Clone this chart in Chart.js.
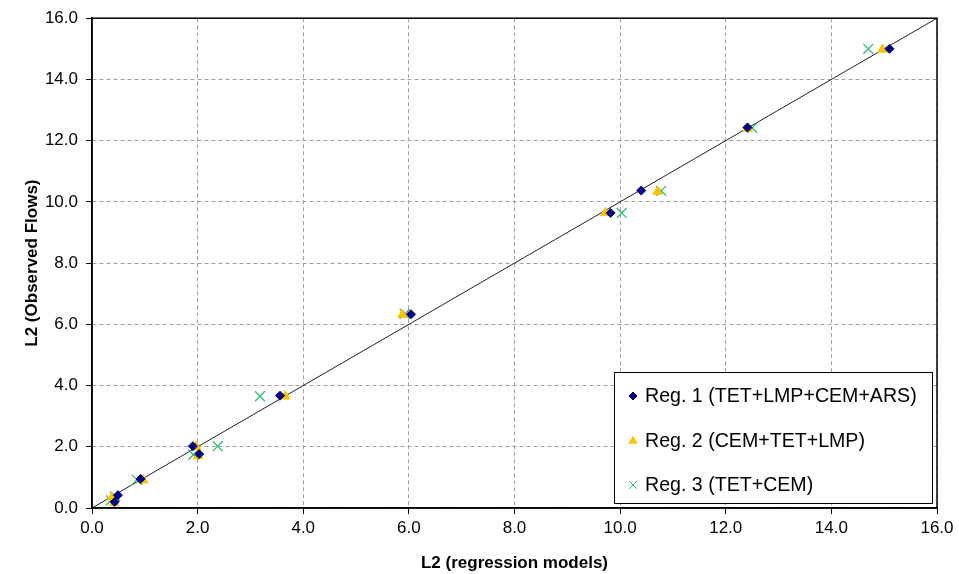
<!DOCTYPE html>
<html>
<head>
<meta charset="utf-8">
<script src="https://cdn.jsdelivr.net/npm/chart.js@4/dist/chart.umd.min.js"></script>
<style>
  html, body { margin: 0; padding: 0; background: #fff; }
  #wrap { width: 959px; height: 574px; position: relative; }
</style>
</head>
<body>
<div id="wrap"><canvas id="scatterChart"></canvas></div>
<script>
// data
const seriesLabels = ["Reg. 1 (TET+LMP+CEM+ARS)", "Reg. 2 (CEM+TET+LMP)", "Reg. 3 (TET+CEM)"];

const reg1X = [0.49, 0.43, 0.92, 1.91, 2.03, 3.56, 6.04, 9.82, 10.40, 12.41, 15.10];
const reg1Y = [0.42, 0.20, 0.95, 2.02, 1.76, 3.67, 6.33, 9.64, 10.37, 12.43, 15.00];

const reg2X = [0.38, 0.42, 0.97, 1.97, 2.01, 3.66, 5.88, 9.72, 10.71, 12.42, 14.97];
const reg2Y = [0.35, 0.17, 0.91, 2.00, 1.70, 3.65, 6.32, 9.64, 10.34, 12.40, 14.98];

const reg3X = [0.36, 0.44, 0.85, 1.92, 2.38, 3.18, 5.92, 10.03, 10.78, 12.50, 14.70];
const reg3Y = [0.25, 0.38, 0.92, 1.74, 2.02, 3.65, 6.34, 9.64, 10.36, 12.42, 15.00];

const lineX = [0, 16];
const lineY = [0, 16];

const axisMin = 0;
const axisMax = 16;
const axisStep = 2;

const xTitle = "L2 (regression models)";
const yTitle = "L2 (Observed Flows)";

function toPoints(xs, ys) {
    return xs.map((x, i) => ({ x: x, y: ys[i] }));
}

// bingkai area plot
const framePlugin = {
    id: "frame",
    afterDatasetsDraw(chart) {
        const a = chart.chartArea;
        const ctx = chart.ctx;
        ctx.save();
        ctx.strokeStyle = "#000";
        ctx.lineWidth = 1.5;
        ctx.strokeRect(a.left, a.top, a.right - a.left, a.bottom - a.top);
        ctx.restore();
    }
};

// legenda di dalam area plot
const boxLegendPlugin = {
    id: "boxLegend",
    afterDraw(chart) {
        const ctx = chart.ctx;
        const x = 614, y = 372, w = 318, h = 131;
        ctx.save();
        ctx.fillStyle = "#fff";
        ctx.fillRect(x, y, w, h);
        ctx.strokeStyle = "#000";
        ctx.lineWidth = 1;
        ctx.strokeRect(x + 0.5, y + 0.5, w, h);
        ctx.font = "19.6px 'Liberation Sans', Arial, sans-serif";
        ctx.textBaseline = "middle";
        const rows = [396, 441, 485];
        for (let i = 0; i < 3; i++) {
            const ds = chart.data.datasets[i];
            ctx.save();
            ctx.fillStyle = ds.backgroundColor;
            ctx.strokeStyle = ds.borderColor;
            ctx.lineWidth = 1;
            Chart.helpers.drawPoint(ctx, {
                pointStyle: ds.pointStyle,
                radius: i === 2 ? 5.5 : (i === 1 ? 4.5 : 4),
                borderWidth: 1,
                rotation: 0
            }, x + 19, rows[i]);
            ctx.restore();
            ctx.fillStyle = "#000";
            ctx.fillText(ds.label, x + 31, rows[i] + 1);
        }
        ctx.restore();
    }
};

const tickFont = { family: "'Liberation Sans', Arial, sans-serif", size: 17 };
const titleFont = { family: "'Liberation Sans', Arial, sans-serif", size: 17, weight: "bold" };

const ctx = document.getElementById("scatterChart").getContext("2d");

window.chart1 = new Chart(ctx, {
    type: "scatter",
    data: {
        datasets: [
            {
                label: seriesLabels[0],
                data: toPoints(reg1X, reg1Y),
                pointStyle: "rectRot",
                pointRadius: 4.5,
                backgroundColor: "#000080",
                borderColor: "#000080",
                borderWidth: 1
            },
            {
                label: seriesLabels[1],
                data: toPoints(reg2X, reg2Y),
                pointStyle: "triangle",
                pointRadius: 5.5,
                backgroundColor: "#FFC000",
                borderColor: "#FFC000",
                borderWidth: 1
            },
            {
                label: seriesLabels[2],
                data: toPoints(reg3X, reg3Y),
                pointStyle: "crossRot",
                pointRadius: 7,
                backgroundColor: "#2EBD6B",
                borderColor: "#2EBD6B",
                borderWidth: 1.3
            },
            {
                type: "line",
                label: "y = x",
                data: toPoints(lineX, lineY),
                borderColor: "#222",
                borderWidth: 1,
                pointRadius: 0,
                fill: false
            }
        ]
    },
    options: {
        responsive: true,
        maintainAspectRatio: false,
        animation: false,
        layout: { padding: { top: 16, right: 22, left: 0, bottom: 0 } },
        plugins: {
            legend: { display: false },
            tooltip: { enabled: false }
        },
        scales: {
            x: {
                type: "linear",
                min: axisMin,
                max: axisMax,
                ticks: {
                    stepSize: axisStep,
                    font: tickFont,
                    color: "#000",
                    padding: 4,
                    callback: v => v.toFixed(1)
                },
                grid: {
                    color: "#a0a0a0",
                    lineWidth: 1,
                    tickColor: "#000",
                    tickLength: 6,
                    tickBorderDash: []
                },
                border: { color: "#000", width: 1.5, dash: [4, 3] },
                title: {
                    display: true,
                    text: xTitle,
                    font: titleFont,
                    color: "#000",
                    padding: { top: 10, bottom: 0 }
                },
                afterFit: scale => { scale.height = 66; }
            },
            y: {
                type: "linear",
                min: axisMin,
                max: axisMax,
                ticks: {
                    stepSize: axisStep,
                    font: tickFont,
                    color: "#000",
                    padding: 8,
                    callback: v => v.toFixed(1)
                },
                grid: {
                    color: "#a0a0a0",
                    lineWidth: 1,
                    tickColor: "#000",
                    tickLength: 6,
                    tickBorderDash: []
                },
                border: { color: "#000", width: 1.5, dash: [4, 3] },
                title: {
                    display: true,
                    text: yTitle,
                    font: titleFont,
                    color: "#000",
                    padding: { top: 22, bottom: 4 }
                },
                afterFit: scale => { scale.width = 92; }
            }
        }
    },
    plugins: [framePlugin, boxLegendPlugin]
});
</script>
</body>
</html>
